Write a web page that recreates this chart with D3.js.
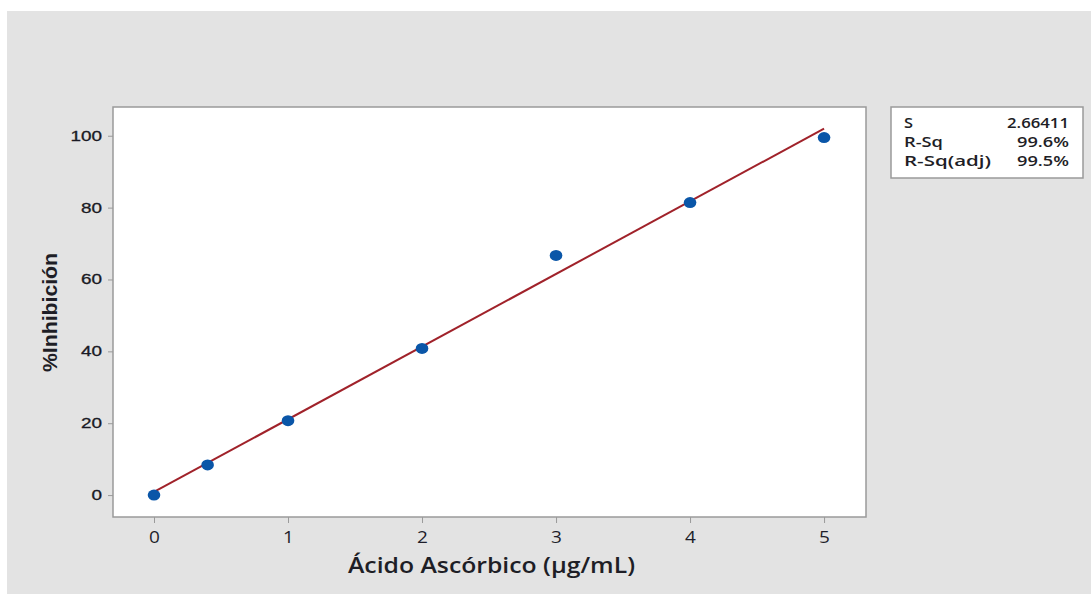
<!DOCTYPE html>
<html><head><meta charset="utf-8">
<script src="https://cdn.jsdelivr.net/npm/d3@7"></script>
<style>body{margin:0;background:#fff;}svg{display:block;}</style>
</head><body>
<script>
const concentrations = [0, 0.4, 1, 2, 3, 4, 5];
const inhibition = [0, 8.4, 20.7, 40.8, 66.7, 81.4, 99.5];
const xTicks = [0, 1, 2, 3, 4, 5];
const yTicks = [0, 20, 40, 60, 80, 100];
const statLabels = ["S", "R-Sq", "R-Sq(adj)"];
const statValues = ["2.66411", "99.6%", "99.5%"];
const xTitle = "Ácido Ascórbico (µg/mL)";
const yTitle = "%Inhibición";

const W = 1091, H = 594;
const svg = d3.select("body").append("svg").attr("width", W).attr("height", H);
svg.append("rect").attr("x", 7).attr("y", 11).attr("width", W - 7).attr("height", H - 11).attr("fill", "#e3e3e3");

const plot = {left: 113, top: 107, right: 866, bottom: 517};
const x = d3.scaleLinear().domain([-0.306, 5.313]).range([plot.left, plot.right]);
const y = d3.scaleLinear().domain([-6.1, 108.0]).range([plot.bottom, plot.top]);

svg.append("rect").attr("x", plot.left).attr("y", plot.top)
  .attr("width", plot.right - plot.left).attr("height", plot.bottom - plot.top)
  .attr("fill", "#fff").attr("stroke", "#9a9a9a").attr("stroke-width", 1.5);

// axes
const xAxis = svg.append("g").attr("transform", `translate(0,${plot.bottom})`)
  .call(d3.axisBottom(x).tickValues(xTicks).tickSize(6).tickPadding(8).tickFormat(d3.format("d")));
xAxis.select(".domain").remove();
xAxis.selectAll("line").attr("stroke", "#9a9a9a");
xAxis.selectAll("text").attr("font-family", "Open Sans").attr("font-size", 17).attr("fill", "#1e1e2a")
  .attr("transform", "scale(1.12,1)");

const ySx = 1.35;
const yAxis = svg.append("g").attr("transform", `translate(${plot.left},0)`)
  .call(d3.axisLeft(y).tickValues(yTicks).tickSize(5).tickPadding(6).tickFormat(d3.format("d")));
yAxis.select(".domain").remove();
yAxis.selectAll("line").attr("stroke", "#9a9a9a");
yAxis.selectAll("text").attr("font-family", "Liberation Sans").attr("font-size", 14).attr("fill", "#1a1a24")
  .attr("x", -11 / ySx).attr("transform", `scale(${ySx},1)`).attr("stroke", "#1a1a24").attr("stroke-width", 0.3);

// regression fit
const n = concentrations.length;
const mx = d3.mean(concentrations), my = d3.mean(inhibition);
let sxy = 0, sxx = 0;
for (let i = 0; i < n; i++) { sxy += (concentrations[i]-mx)*(inhibition[i]-my); sxx += (concentrations[i]-mx)**2; }
const slope = sxy / sxx, intercept = my - slope * mx;
const xMin = d3.min(concentrations), xMax = d3.max(concentrations);
svg.append("line")
  .attr("x1", x(xMin)).attr("y1", y(intercept + slope * xMin))
  .attr("x2", x(xMax)).attr("y2", y(intercept + slope * xMax))
  .attr("stroke", "#a0222a").attr("stroke-width", 2);

// points
svg.selectAll("ellipse.pt").data(concentrations).enter().append("ellipse")
  .attr("class", "pt")
  .attr("cx", (d) => x(d)).attr("cy", (d, i) => y(inhibition[i]))
  .attr("rx", 6.3).attr("ry", 5.5).attr("fill", "#0a56a8");

// titles
svg.append("text").attr("x", 491.5).attr("y", 573).attr("text-anchor", "middle")
  .attr("font-family", "Open Sans").attr("font-size", 21).attr("font-weight", 600).attr("fill", "#1e1e26")
  .attr("textLength", 287).attr("lengthAdjust", "spacingAndGlyphs")
  .text(xTitle);
svg.append("text").attr("transform", "translate(57,312.5) rotate(-90)").attr("text-anchor", "middle")
  .attr("font-family", "Liberation Sans").attr("font-size", 20).attr("font-weight", 700).attr("fill", "#1e1e26")
  .attr("textLength", 119).attr("lengthAdjust", "spacingAndGlyphs")
  .text(yTitle);

// stats box
svg.append("rect").attr("x", 891).attr("y", 107).attr("width", 192).attr("height", 71)
  .attr("fill", "#fff").attr("stroke", "#9a9a9a").attr("stroke-width", 1.5);
const labelWidths = [9, 39, 87];
const valueWidths = [62, 52, 52];
const rows = svg.append("g");
statLabels.forEach((lab, i) => {
  const by = 128 + i * 19;
  rows.append("text").attr("x", 904).attr("y", by).attr("font-family", "Open Sans").attr("font-size", 14)
    .attr("font-weight", 600).attr("fill", "#1e1e26")
    .attr("textLength", labelWidths[i]).attr("lengthAdjust", "spacingAndGlyphs").text(lab);
  rows.append("text").attr("x", 1069 - valueWidths[i]).attr("y", by).attr("font-family", "Open Sans")
    .attr("font-size", 14).attr("font-weight", 600).attr("fill", "#1e1e26")
    .attr("textLength", valueWidths[i]).attr("lengthAdjust", "spacingAndGlyphs").text(statValues[i]);
});
</script>
</body></html>
